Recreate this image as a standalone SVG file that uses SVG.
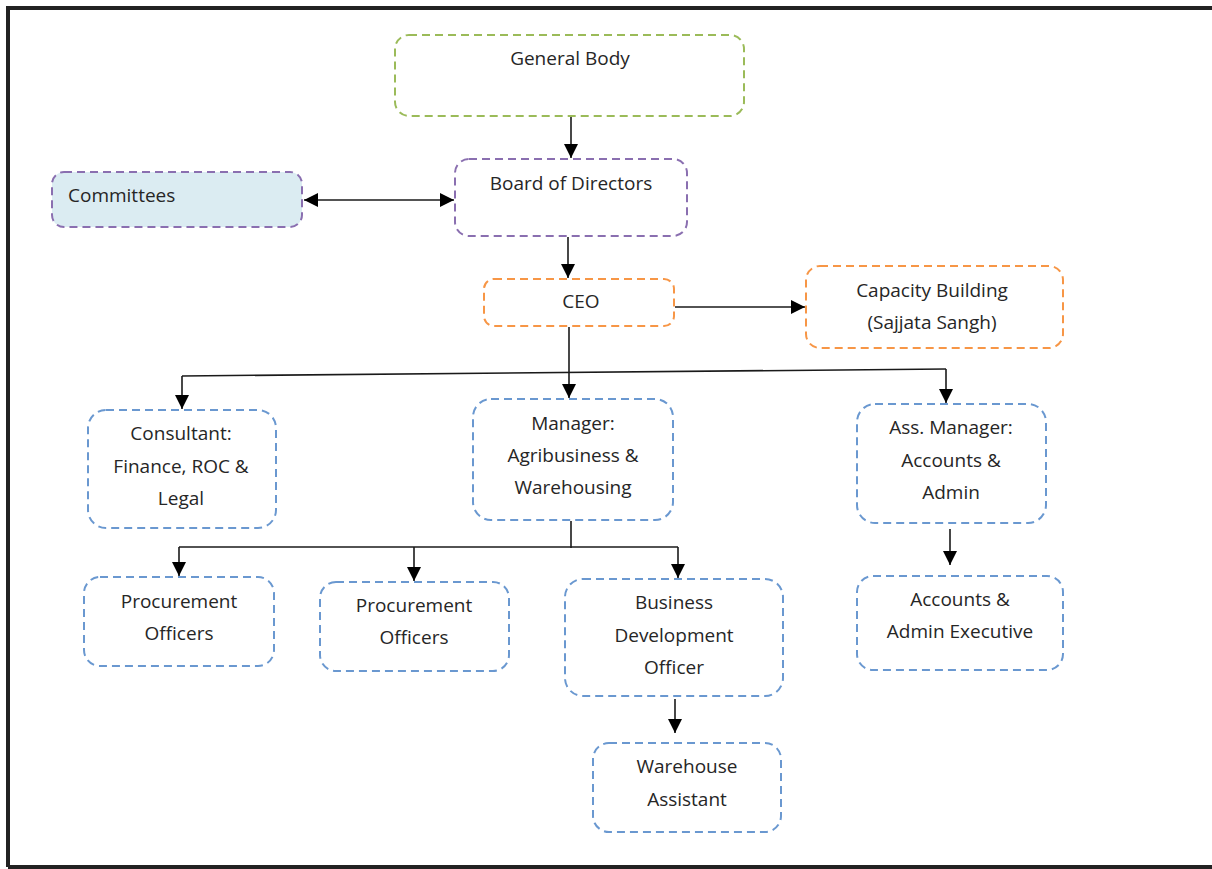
<svg xmlns="http://www.w3.org/2000/svg" width="1212" height="869" viewBox="0 0 1212 869">
  <style>
    .box { stroke-width: 2; stroke-dasharray: 8 5; fill: #ffffff; }
    .green { stroke: #9bbb59; }
    .purple { stroke: #8a6fb0; }
    .orange { stroke: #f79646; }
    .blue { stroke: #6a98d0; }
    .txt { font-family: "Open Sans", "Liberation Sans", sans-serif; font-size: 19px; fill: #262626; text-anchor: middle; }
    .line { stroke: #1a1a1a; stroke-width: 1.6; fill: none; }
  </style>
  <defs>
    <marker id="arrow" viewBox="0 0 10 10" refX="10" refY="5" markerWidth="14" markerHeight="14" markerUnits="userSpaceOnUse" orient="auto-start-reverse">
      <path d="M0,0 L10,5 L0,10 z" fill="#000"/>
    </marker>
  </defs>
  <rect x="0" y="0" width="1212" height="869" fill="#ffffff"/>
  <!-- frame -->
  <path d="M8,867 L8,8 L1212,8" fill="none" stroke="#222" stroke-width="4"/>
  <line x1="8" y1="867" x2="1212" y2="867" stroke="#222" stroke-width="4"/>

  <g id="connectors">
    <line class="line" x1="571" y1="117" x2="571" y2="158" marker-end="url(#arrow)"/>
    <line class="line" x1="304" y1="200" x2="454" y2="200" marker-start="url(#arrow)" marker-end="url(#arrow)"/>
    <line class="line" x1="568" y1="237" x2="568" y2="278" marker-end="url(#arrow)"/>
    <line class="line" x1="675" y1="307" x2="805" y2="307" stroke-width="2.2" marker-end="url(#arrow)"/>
    <line class="line" x1="569" y1="327" x2="569" y2="398" marker-end="url(#arrow)"/>
    <line class="line" x1="182" y1="376" x2="946" y2="369"/>
    <line class="line" x1="182" y1="376" x2="182" y2="409" marker-end="url(#arrow)"/>
    <line class="line" x1="946" y1="369" x2="946" y2="403" marker-end="url(#arrow)"/>
    <line class="line" x1="571" y1="521" x2="571" y2="548"/>
    <line class="line" x1="179" y1="547" x2="678" y2="547"/>
    <line class="line" x1="179" y1="547" x2="179" y2="576" marker-end="url(#arrow)"/>
    <line class="line" x1="414" y1="547" x2="414" y2="581" marker-end="url(#arrow)"/>
    <line class="line" x1="678" y1="547" x2="678" y2="578" marker-end="url(#arrow)"/>
    <line class="line" x1="950" y1="529" x2="950" y2="565" marker-end="url(#arrow)"/>
    <line class="line" x1="675" y1="699" x2="675" y2="733" marker-end="url(#arrow)"/>
  </g>

  <g id="general-body">
    <rect class="box green" x="395" y="35" width="349" height="81" rx="14"/>
    <text class="txt" x="570" y="65">General Body</text>
  </g>
  <g id="board-of-directors">
    <rect class="box purple" x="455" y="159" width="232" height="77" rx="14"/>
    <text class="txt" x="571" y="190">Board of Directors</text>
  </g>
  <g id="committees">
    <rect class="box purple" x="52" y="172" width="250" height="55" rx="12" style="fill:#dbecf2"/>
    <text class="txt" x="68" y="202" style="text-anchor:start">Committees</text>
  </g>
  <g id="ceo">
    <rect class="box orange" x="484" y="279" width="190" height="47" rx="10"/>
    <text class="txt" x="581" y="308">CEO</text>
  </g>
  <g id="capacity-building">
    <rect class="box orange" x="806" y="266" width="257" height="82" rx="14"/>
    <text class="txt" x="932" y="297">Capacity Building</text>
    <text class="txt" x="932" y="329">(Sajjata Sangh)</text>
  </g>
  <g id="consultant">
    <rect class="box blue" x="88" y="410" width="188" height="118" rx="18"/>
    <text class="txt" x="181" y="440">Consultant:</text>
    <text class="txt" x="181" y="473">Finance, ROC &amp;</text>
    <text class="txt" x="181" y="505">Legal</text>
  </g>
  <g id="manager">
    <rect class="box blue" x="473" y="399" width="200" height="121" rx="18"/>
    <text class="txt" x="573" y="430">Manager:</text>
    <text class="txt" x="573" y="462">Agribusiness &amp;</text>
    <text class="txt" x="573" y="494">Warehousing</text>
  </g>
  <g id="ass-manager">
    <rect class="box blue" x="857" y="404" width="189" height="119" rx="18"/>
    <text class="txt" x="951" y="434">Ass. Manager:</text>
    <text class="txt" x="951" y="467">Accounts &amp;</text>
    <text class="txt" x="951" y="499">Admin</text>
  </g>
  <g id="procurement-1">
    <rect class="box blue" x="84" y="577" width="190" height="89" rx="16"/>
    <text class="txt" x="179" y="608">Procurement</text>
    <text class="txt" x="179" y="640">Officers</text>
  </g>
  <g id="procurement-2">
    <rect class="box blue" x="320" y="582" width="189" height="89" rx="16"/>
    <text class="txt" x="414" y="612">Procurement</text>
    <text class="txt" x="414" y="644">Officers</text>
  </g>
  <g id="business-development">
    <rect class="box blue" x="565" y="579" width="218" height="117" rx="18"/>
    <text class="txt" x="674" y="609">Business</text>
    <text class="txt" x="674" y="642">Development</text>
    <text class="txt" x="674" y="674">Officer</text>
  </g>
  <g id="accounts-admin-exec">
    <rect class="box blue" x="857" y="576" width="206" height="94" rx="16"/>
    <text class="txt" x="960" y="606">Accounts &amp;</text>
    <text class="txt" x="960" y="638">Admin Executive</text>
  </g>
  <g id="warehouse-assistant">
    <rect class="box blue" x="593" y="743" width="188" height="89" rx="16"/>
    <text class="txt" x="687" y="773">Warehouse</text>
    <text class="txt" x="687" y="806">Assistant</text>
  </g>
</svg>
